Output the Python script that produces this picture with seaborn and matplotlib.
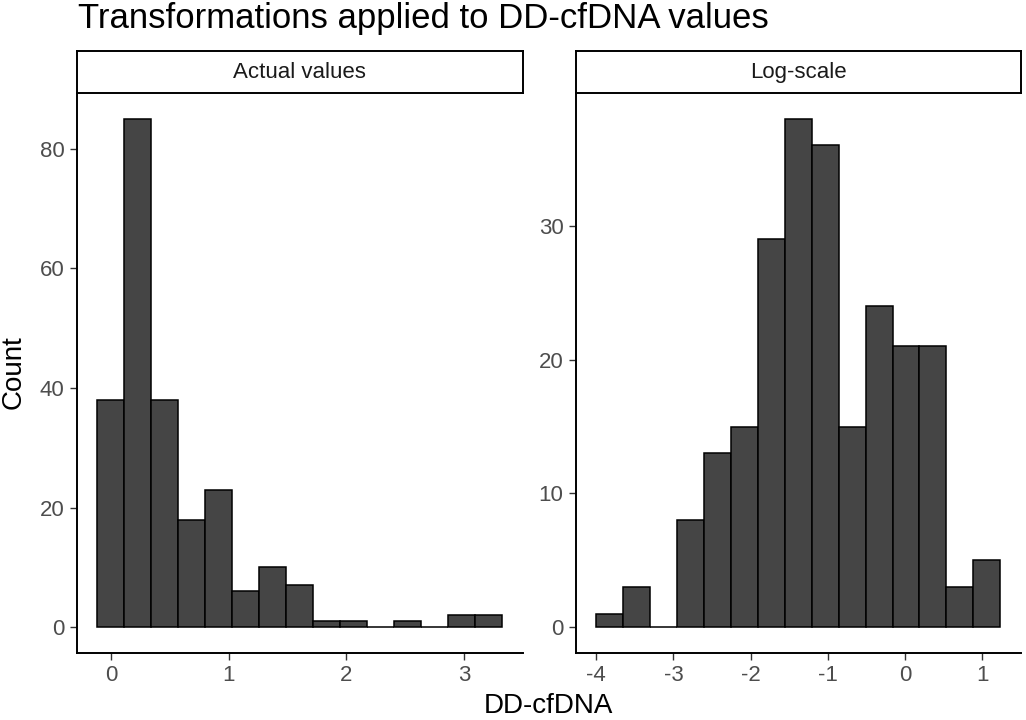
import numpy as np
import pandas as pd
import matplotlib
matplotlib.use("Agg")
import matplotlib.pyplot as plt
import seaborn as sns

# -------------------------------
# Data
# -------------------------------
panel_titles = ["Actual values", "Log-scale"]

actual_counts = [38, 85, 38, 18, 23, 6, 10, 7, 1, 1, 0, 1, 0, 2, 2]
actual_bin_start = -0.119
actual_bin_width = 0.2296

log_counts = [1, 3, 0, 8, 13, 15, 29, 38, 36, 15, 24, 21, 21, 3, 5]
log_bin_start = -4.0
log_bin_width = 0.349

actual_xticks = [0, 1, 2, 3]
actual_yticks = [0, 20, 40, 60, 80]
log_xticks = [-4, -3, -2, -1, 0, 1]
log_yticks = [0, 10, 20, 30]

# -------------------------------
# Style
# -------------------------------
sns.set_style("white")
plt.rcParams["font.family"] = ["Liberation Sans", "DejaVu Sans"]
plt.rcParams["axes.unicode_minus"] = False

W, H = 1026, 720
fig = plt.figure(figsize=(W / 100, H / 100), dpi=100)


def box(x0, y0, x1, y1):
    # pixel box (top-left origin) -> figure fraction rect
    return [x0 / W, 1 - y1 / H, (x1 - x0) / W, (y1 - y0) / H]


def draw_panel(rect, strip_rect, counts, start, width, xticks, yticks, label):
    edges = start + width * np.arange(len(counts) + 1)
    df = pd.DataFrame({"x": (edges[:-1] + edges[1:]) / 2, "n": counts})

    ax = fig.add_axes(rect)
    sns.histplot(data=df, x="x", weights="n", bins=edges.tolist(), ax=ax,
                 color="#454545", edgecolor="black", linewidth=1.1, alpha=1)

    xr = edges[-1] - edges[0]
    ax.set_xlim(edges[0] - 0.05 * xr, edges[-1] + 0.05 * xr)
    ymax = max(counts)
    ax.set_ylim(-0.05 * ymax, ymax * 1.05)
    ax.set_xticks(xticks)
    ax.set_xticklabels([str(t) for t in xticks])
    ax.set_yticks(yticks)
    ax.set_xlabel("")
    ax.set_ylabel("")

    for s in ["top", "right"]:
        ax.spines[s].set_visible(False)
    for s in ["left", "bottom"]:
        ax.spines[s].set_linewidth(1.4)
        ax.spines[s].set_color("black")
    ax.tick_params(axis="both", length=5, width=1.0, color="#333333",
                   labelsize=16, labelcolor="#4D4D4D", pad=4, direction="out",
                   bottom=True, left=True)

    # facet strip
    sx = fig.add_axes(strip_rect)
    sx.set_xticks([])
    sx.set_yticks([])
    for s in sx.spines.values():
        s.set_linewidth(1.4)
        s.set_color("black")
    sx.text(0.5, 0.5, label, ha="center", va="center", fontsize=16,
            color="#1A1A1A", transform=sx.transAxes)
    return ax


draw_panel(box(77, 93.3, 522.5, 652.7), box(77, 51, 522.5, 93.3),
           actual_counts, actual_bin_start, actual_bin_width,
           actual_xticks, actual_yticks, panel_titles[0])
draw_panel(box(576, 93.3, 1020.5, 652.7), box(576, 51, 1020.5, 93.3),
           log_counts, log_bin_start, log_bin_width,
           log_xticks, log_yticks, panel_titles[1])

# titles
fig.text(78 / W, 1 - 28 / H, "Transformations applied to DD-cfDNA values",
         ha="left", va="baseline", fontsize=25, color="black")
fig.text(548 / W, 1 - 706 / H, "DD-cfDNA", ha="center", va="center",
         fontsize=20, color="black")
fig.text(14 / W, 1 - 372 / H, "Count", ha="center", va="center",
         rotation=90, fontsize=20, color="black")

fig.savefig("out.png", dpi=100)
